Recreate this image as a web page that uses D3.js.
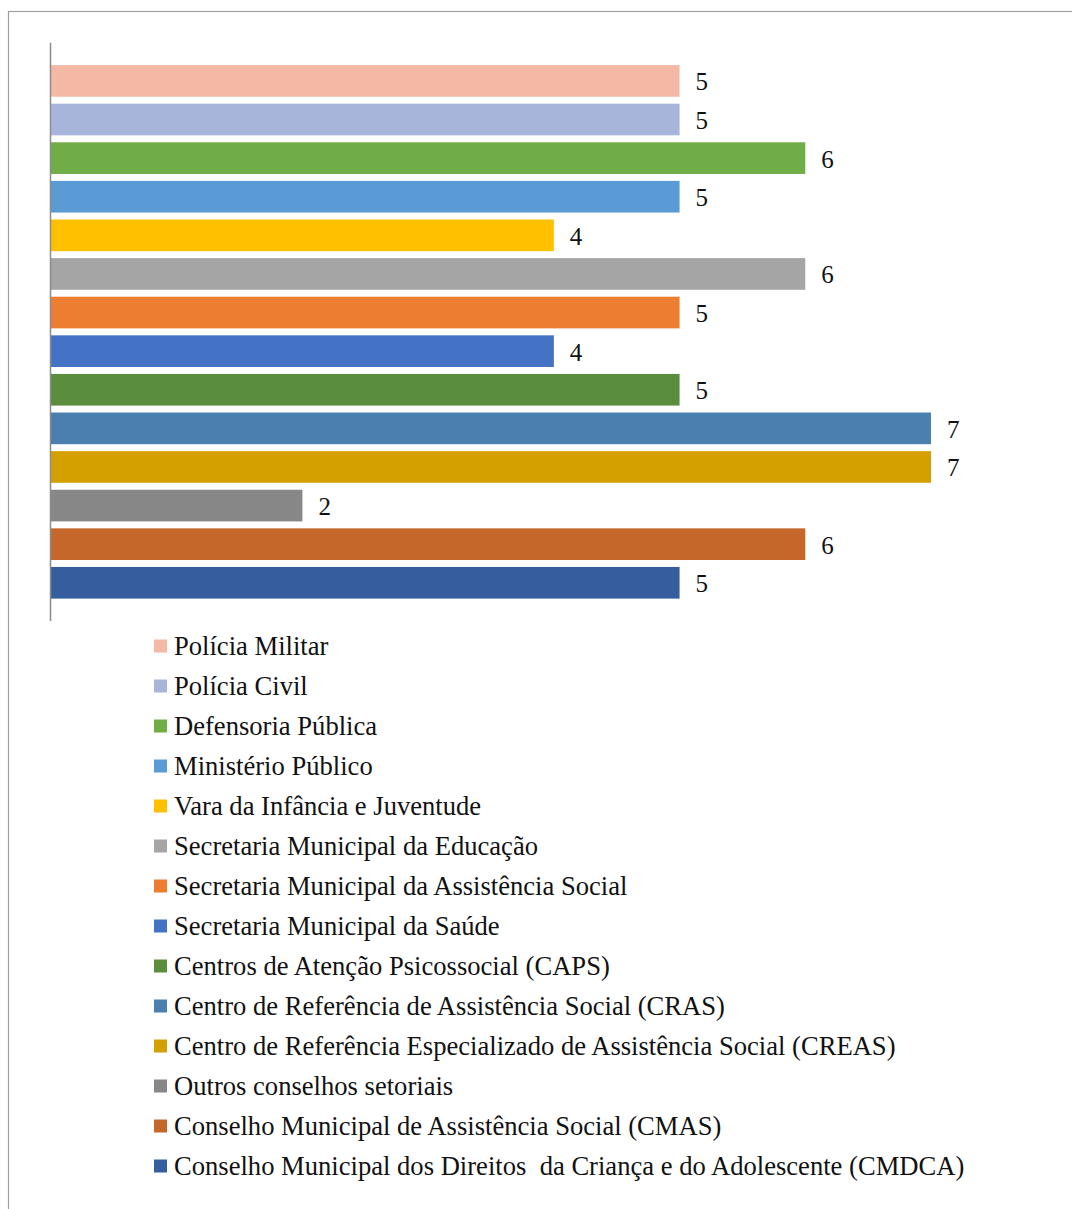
<!DOCTYPE html>
<html>
<head>
<meta charset="utf-8">
<script src="https://cdn.jsdelivr.net/npm/d3@7"></script>
<style>
body { margin: 0; background: #fff; }
</style>
</head>
<body>
<div id="divcont"></div>
<script>
var wd = 1072
var ht = 1209

// data
var categories = ["Polícia Militar", "Polícia Civil", "Defensoria Pública", "Ministério Público",
  "Vara da Infância e Juventude", "Secretaria Municipal da Educação",
  "Secretaria Municipal da Assistência Social", "Secretaria Municipal da Saúde",
  "Centros de Atenção Psicossocial (CAPS)", "Centro de Referência de Assistência Social (CRAS)",
  "Centro de Referência Especializado de Assistência Social (CREAS)", "Outros conselhos setoriais",
  "Conselho Municipal de Assistência Social (CMAS)",
  "Conselho Municipal dos Direitos\u00a0 da Criança e do Adolescente (CMDCA)"]
var values = [5, 5, 6, 5, 4, 6, 5, 4, 5, 7, 7, 2, 6, 5]
var colours = ["#F4B9A5", "#A8B5DB", "#70AD47", "#5B9BD5", "#FFC000", "#A5A5A5", "#ED7D31",
  "#4472C4", "#5B8E3C", "#4A7FB0", "#D4A000", "#878787", "#C5672B", "#365E9F"]

var svg = d3.select("#divcont")
  .append("svg")
  .attr("width", wd)
  .attr("height", ht)
  .style("font-family", "'Liberation Serif', 'Times New Roman', serif")

// outer frame
svg.append("rect")
  .attr("x", 8.5)
  .attr("y", 11.5)
  .attr("width", wd)
  .attr("height", ht)
  .attr("fill", "none")
  .attr("stroke", "#a0a0a0")
  .attr("stroke-width", 1.2)

var xScale = d3.scaleLinear()
  .domain([0, 7])
  .range([51, 931])

var yScale = d3.scaleBand()
  .domain(categories)
  .range([42.7, 621])
  .paddingInner(0.18)
  .paddingOuter(0.58)

svg.selectAll(".bar")
  .data(categories)
  .enter()
  .append("rect")
  .attr("class", "bar")
  .attr("x", xScale(0))
  .attr("y", function(d) { return yScale(d) })
  .attr("width", function(d, i) { return xScale(values[i]) - xScale(0) })
  .attr("height", yScale.bandwidth())
  .attr("fill", function(d, i) { return colours[i] })

svg.selectAll(".vlab")
  .data(categories)
  .enter()
  .append("text")
  .attr("class", "vlab")
  .attr("x", function(d, i) { return xScale(values[i]) + 16 })
  .attr("y", function(d) { return yScale(d) + yScale.bandwidth() / 2 + 1 })
  .attr("dominant-baseline", "central")
  .style("font-size", "25px")
  .attr("fill", "#111")
  .text(function(d, i) { return values[i] })

// vertical axis line
svg.append("line")
  .attr("x1", 50.5).attr("x2", 50.5)
  .attr("y1", 42.7).attr("y2", 621)
  .attr("stroke", "#8c8c8c")
  .attr("stroke-width", 1.5)

// legend
var legY = d3.scaleLinear().domain([0, 13]).range([646, 1166])

var leg = svg.selectAll(".leg")
  .data(categories)
  .enter()
  .append("g")
  .attr("class", "leg")
  .attr("transform", function(d, i) { return "translate(154," + legY(i) + ")" })

leg.append("rect")
  .attr("x", 0)
  .attr("y", -6.5)
  .attr("width", 13)
  .attr("height", 13)
  .attr("fill", function(d, i) { return colours[i] })

leg.append("text")
  .attr("x", 20)
  .attr("y", 0)
  .attr("dominant-baseline", "central")
  .style("font-size", "26.6px")
  .attr("fill", "#111")
  .text(function(d) { return d })
</script>
</body>
</html>
